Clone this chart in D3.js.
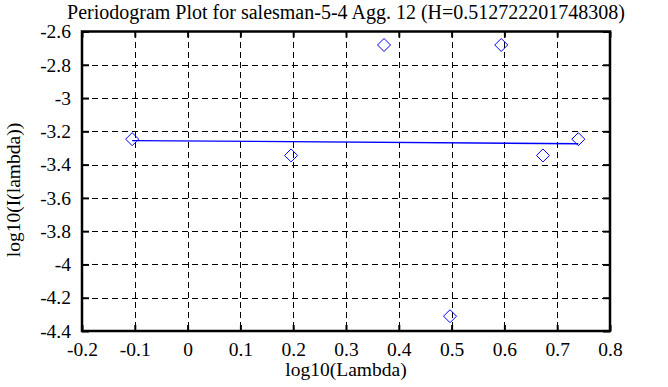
<!DOCTYPE html>
<html>
<head>
<meta charset="utf-8">
<script src="https://cdn.jsdelivr.net/npm/d3@7"></script>
<style>
	body { margin: 0; background: #fff; }
</style>
</head>
<body>
<div id="chart"></div>
<script>
//------------------------------------------------------------------------------
// Data
//------------------------------------------------------------------------------

var title_text = "Periodogram Plot for salesman-5-4 Agg. 12 (H=0.512722201748308)";
var log_lambda = [-0.105, 0.196, 0.372, 0.497, 0.594, 0.673, 0.740];
var log_I = [-3.247, -3.345, -2.681, -4.311, -2.681, -3.345, -3.247];
var fit_x = [-0.105, 0.740];
var fit_y = [-3.2556, -3.2745];
var x_ticks = [-0.2, -0.1, 0, 0.1, 0.2, 0.3, 0.4, 0.5, 0.6, 0.7, 0.8];
var y_ticks = [-2.6, -2.8, -3, -3.2, -3.4, -3.6, -3.8, -4, -4.2, -4.4];

var FONT = "'Liberation Serif', serif";

//------------------------------------------------------------------------------
// Plot
//------------------------------------------------------------------------------

function plot_periodogram() {
	var width = 668, height = 387;
	var left = 82, right = 610, top = 31.5, bottom = 331;

	var svg = d3.select("#chart")
		.append("svg")
		.attr("width", width)
		.attr("height", height);

	var xscale = d3.scaleLinear().domain([-0.2, 0.8]).range([left, right]);
	var yscale = d3.scaleLinear().domain([-4.4, -2.6]).range([bottom, top]);

	// plain hyphen instead of unicode minus
	var fmt = d => String(+d.toFixed(1));

	// dashed grid
	var grid = svg.append("g")
		.attr("stroke", "#000")
		.attr("stroke-width", 1)
		.attr("stroke-dasharray", "6,4")
		.attr("shape-rendering", "crispEdges");
	grid.selectAll(".gx")
		.data(x_ticks.slice(1, -1))
		.enter().append("line")
		.attr("x1", d => Math.round(xscale(d)) + 0.5)
		.attr("x2", d => Math.round(xscale(d)) + 0.5)
		.attr("y1", top).attr("y2", bottom);
	grid.selectAll(".gy")
		.data(y_ticks.slice(1, -1))
		.enter().append("line")
		.attr("y1", d => Math.round(yscale(d)) + 0.5)
		.attr("y2", d => Math.round(yscale(d)) + 0.5)
		.attr("x1", left).attr("x2", right);

	// axes with inward ticks
	var x_axis = d3.axisBottom(xscale).tickValues(x_ticks).tickSizeInner(-6).tickSizeOuter(0)
		.tickPadding(11).tickFormat(fmt);
	var y_axis = d3.axisLeft(yscale).tickValues(y_ticks).tickSizeInner(-7).tickSizeOuter(0)
		.tickPadding(11).tickFormat(fmt);

	svg.append("g")
		.attr("transform", "translate(0," + bottom + ")")
		.call(x_axis);
	svg.append("g")
		.attr("transform", "translate(" + left + ",0)")
		.call(y_axis);
	svg.append("g")
		.attr("transform", "translate(0," + top + ")")
		.call(d3.axisTop(xscale).tickValues(x_ticks).tickSizeInner(-6).tickSizeOuter(0).tickFormat(""));
	svg.append("g")
		.attr("transform", "translate(" + right + ",0)")
		.call(d3.axisRight(yscale).tickValues(y_ticks).tickSizeInner(-7).tickSizeOuter(0).tickFormat(""));

	svg.selectAll(".domain").remove();
	svg.selectAll(".tick line").attr("stroke", "#000").attr("stroke-width", 2);
	svg.selectAll(".tick text")
		.attr("fill", "#000")
		.style("font-family", FONT)
		.style("font-size", "19.5px");

	// frame
	svg.append("rect")
		.attr("x", left).attr("y", top)
		.attr("width", right - left).attr("height", bottom - top)
		.attr("fill", "none")
		.attr("stroke", "#000")
		.attr("stroke-width", 2.5);

	// fitted line
	svg.append("line")
		.attr("x1", xscale(fit_x[0])).attr("y1", yscale(fit_y[0]))
		.attr("x2", xscale(fit_x[1])).attr("y2", yscale(fit_y[1]))
		.attr("stroke", "#0000ff")
		.attr("stroke-width", 1.3);

	// periodogram points
	svg.selectAll(".pt")
		.data(log_lambda)
		.enter().append("path")
		.attr("d", "M0,-6.5L6.5,0L0,6.5L-6.5,0Z")
		.attr("transform", (d, i) => "translate(" + xscale(d) + "," + yscale(log_I[i]) + ")")
		.attr("fill", "none")
		.attr("stroke", "#0000ff")
		.attr("stroke-width", 1);

	// labels
	svg.append("text")
		.attr("x", 346).attr("y", 19)
		.attr("text-anchor", "middle")
		.style("font-family", FONT)
		.style("font-size", "20px")
		.text(title_text);
	svg.append("text")
		.attr("x", 346).attr("y", 376)
		.attr("text-anchor", "middle")
		.style("font-family", FONT)
		.style("font-size", "19.5px")
		.text("log10(Lambda)");
	svg.append("text")
		.attr("transform", "translate(20,190) rotate(-90)")
		.attr("text-anchor", "middle")
		.style("font-family", FONT)
		.style("font-size", "19.5px")
		.text("log10(I(lambda))");
}

function main() {
	plot_periodogram();
}

window.addEventListener('load', main, false);
</script>
</body>
</html>
